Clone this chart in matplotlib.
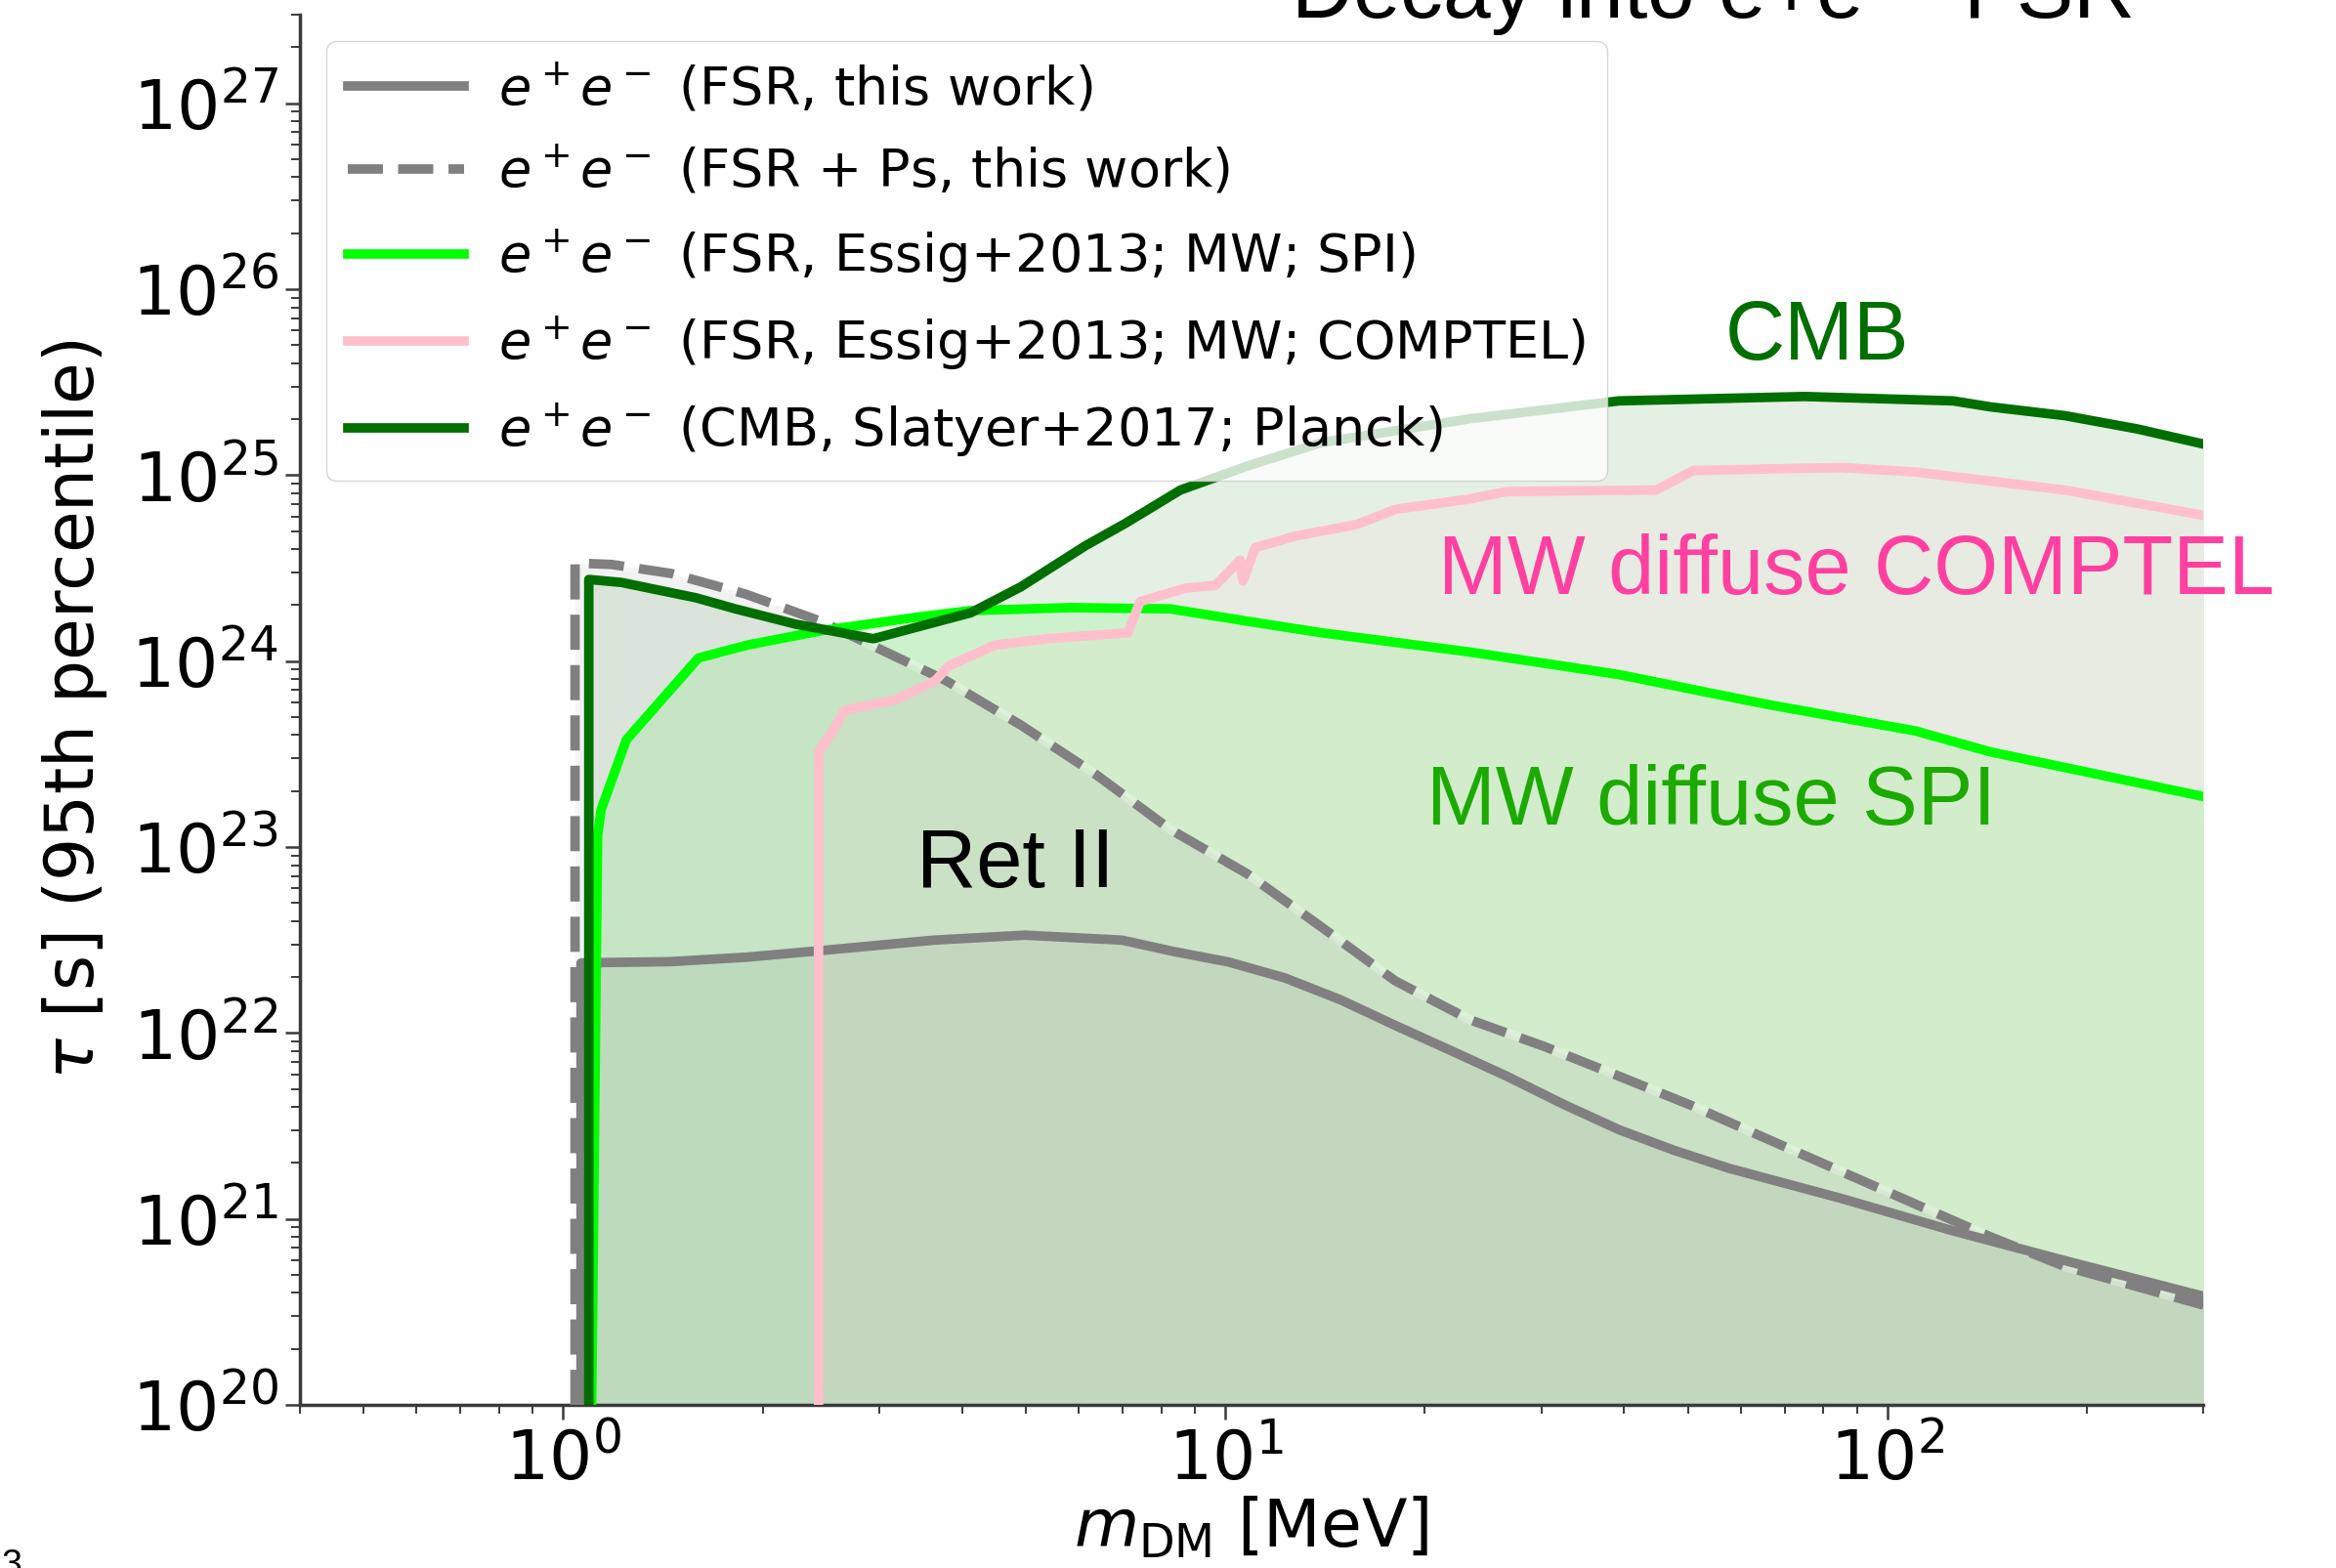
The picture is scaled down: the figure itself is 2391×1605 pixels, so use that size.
import matplotlib
matplotlib.use('Agg')
import matplotlib.pyplot as plt

# m_DM [MeV] and tau [s]
fsr_x = [1.064, 1.064, 1.112, 1.449, 1.897, 2.46, 3.63, 4.98, 6.98, 8.33, 10.11,
         12.29, 14.92, 18.04, 21.9, 26.6, 32.3, 39.3, 47.6, 57.7, 85.1, 125.6, 185.3, 300]
fsr_y = [1e20, 2.38e22, 2.39e22, 2.42e22, 2.56e22, 2.78e22, 3.16e22, 3.36e22, 3.16e22,
         2.75e22, 2.41e22, 1.98e22, 1.51e22, 1.10e22, 8.05e21, 5.86e21, 4.16e21,
         3.02e21, 2.34e21, 1.87e21, 1.29e21, 8.63e20, 5.97e20, 3.84e20]

fsrps_x = [1.042, 1.042, 1.184, 1.457, 1.888, 2.447, 2.92, 3.78, 4.91, 6.36, 8.24,
           10.79, 13.99, 18.04, 23.38, 30.3, 39.3, 50.7, 65.7, 85.1, 110.3, 143.0,
           185.3, 300]
fsrps_y = [1e20, 3.37e24, 3.31e24, 2.96e24, 2.29e24, 1.64e24, 1.22e24, 7.87e23,
           4.53e23, 2.47e23, 1.25e23, 7.18e22, 3.70e22, 1.91e22, 1.18e22, 8.47e21,
           5.86e21, 4.06e21, 2.70e21, 1.80e21, 1.20e21, 8.02e20, 5.55e20, 3.44e20]

spi_x = [1.104, 1.127, 1.141, 1.245, 1.600, 1.897, 2.460, 3.446, 4.125, 5.84, 8.26,
         10.79, 13.99, 23.38, 39.3, 50.7, 65.7, 110.3, 143.0, 300]
spi_y = [1e20, 1.16e23, 1.59e23, 3.77e23, 1.04e24, 1.22e24, 1.46e24, 1.73e24, 1.87e24,
         1.94e24, 1.91e24, 1.64e24, 1.42e24, 1.12e24, 8.47e23, 7.05e23, 5.86e23,
         4.21e23, 3.25e23, 1.87e23]

comptel_x = [2.430, 2.430, 2.432, 2.538, 2.659, 3.172, 3.650, 3.824, 4.490, 5.357,
             7.127, 7.43, 8.70, 9.66, 10.52, 10.63, 11.09, 12.74, 15.85, 18.04, 23.38,
             26.6, 44.7, 50.9, 85.1, 110.3, 185.3, 300]
comptel_y = [1e20, 2.38e23, 3.28e23, 4.06e23, 5.45e23, 6.19e23, 7.87e23, 9.46e23,
             1.22e24, 1.32e24, 1.42e24, 2.09e24, 2.47e24, 2.56e24, 3.50e24, 2.70e24,
             4.08e24, 4.70e24, 5.45e24, 6.55e24, 7.45e24, 8.17e24, 8.32e24, 1.06e25,
             1.10e25, 1.04e25, 8.32e24, 6.08e24]

cmb_x = [1.093, 1.093, 1.224, 1.588, 1.820, 2.246, 2.94, 4.125, 4.91, 6.15, 7.07, 8.55,
         10.79, 13.99, 23.38, 39.3, 74.8, 125.6, 143.0, 185.3, 238.9, 300]
cmb_y = [1e20, 2.75e24, 2.65e24, 2.19e24, 1.91e24, 1.58e24, 1.32e24, 1.82e24, 2.51e24,
         4.18e24, 5.52e24, 8.32e24, 1.12e25, 1.50e25, 2.01e25, 2.51e25, 2.65e25,
         2.51e25, 2.33e25, 2.09e25, 1.77e25, 1.47e25]

labels = [r'$e^+e^-$ (FSR, this work)',
          r'$e^+e^-$ (FSR + Ps, this work)',
          r'$e^+e^-$ (FSR, Essig+2013; MW; SPI)',
          r'$e^+e^-$ (FSR, Essig+2013; MW; COMPTEL)',
          r'$e^+e^-$ (CMB, Slatyer+2017; Planck)']

cmb_col = '#006f00'
curves = [
    (fsr_x, fsr_y, 'gray', '-'),
    (fsrps_x, fsrps_y, 'gray', '--'),
    (spi_x, spi_y, 'lime', '-'),
    (comptel_x, comptel_y, 'pink', '-'),
    (cmb_x, cmb_y, cmb_col, '-'),
]

fig = plt.figure(figsize=(23.91, 16.05), dpi=100)
ax = fig.add_axes([0.1283, 0.104, 0.815, 0.8867])

# shaded excluded regions, pink one laid last
fill_order = [4, 2, 1, 0, 3]
for i in fill_order:
    x, y, c, ls = curves[i]
    ax.fill_between(x, 1e20, y, color=c, alpha=0.1, lw=0, zorder=1)

lw = 7
for (x, y, c, ls), lab in zip(curves, labels):
    if ls == '--':
        ax.plot(x, y, color='white', alpha=0.25, lw=lw, zorder=2)
    ax.plot(x, y, color=c, ls=ls, lw=lw, label=lab, zorder=3)

ax.set_xscale('log')
ax.set_yscale('log')
ax.set_xlim(0.4, 300)
ax.set_ylim(1e20, 3e27)

for s in ['top', 'right']:
    ax.spines[s].set_visible(False)
for s in ['left', 'bottom']:
    ax.spines[s].set_linewidth(2.5)
    ax.spines[s].set_color('#3a3a3a')
ax.tick_params(which='major', length=11, width=1.8, color='#3a3a3a', labelsize=50, pad=5)
ax.tick_params(which='minor', length=6.5, width=1.4, color='#3a3a3a')

ax.set_xlabel(r'$m_{\rm DM}$ [MeV]', fontsize=49, labelpad=2)
ax.set_ylabel(r'$\tau$ [s] (95th percentile)', fontsize=50, labelpad=16)

ax.legend(loc='upper left', fontsize=39, handlelength=2.2, handletextpad=0.65,
          labelspacing=0.55, framealpha=0.8)

hel = 'Liberation Sans'
ax.text(56.8, 10**25.624, 'CMB', color=cmb_col, fontsize=61, family=hel,
        ha='left', va='baseline')
ax.text(20.97, 10**24.36, 'MW diffuse COMPTEL', color='#ff40a0', fontsize=61,
        family=hel, ha='left', va='baseline')
ax.text(20.1, 10**23.12, 'MW diffuse SPI', color='#1caa00', fontsize=61, family=hel,
        ha='left', va='baseline')
ax.text(3.41, 10**22.784, 'Ret II', color='black', fontsize=61, family=hel,
        ha='left', va='baseline')

fig.text(1321 / 2391, 1 - 18 / 1605, r'Decay into e+e$^-$ FSR', fontsize=63, family=hel,
         ha='left', va='baseline')
fig.text(0.0008, 20 / 1605, '3', fontsize=27, family=hel, ha='left', va='top')

fig.savefig('out.png', dpi=100)
